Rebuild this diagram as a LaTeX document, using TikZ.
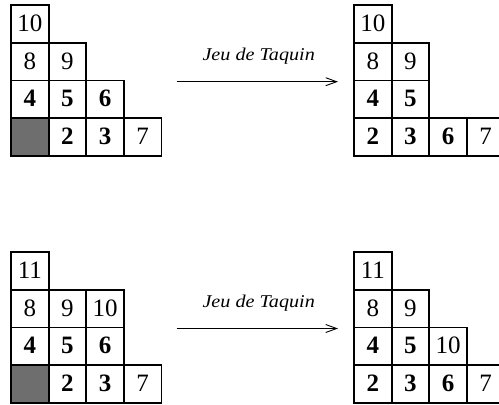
\documentclass[tikz,border=0pt]{standalone}
\usepackage{fontspec}
\setmainfont{Liberation Serif}
\usetikzlibrary{arrows.meta}
\definecolor{holegray}{HTML}{6E6E6E}
\newcommand{\cellfont}{\fontsize{25}{25}\selectfont}
\begin{document}
\begin{tikzpicture}[x=1pt,y=-1pt,
  cell/.style={draw, line width=1.8pt, minimum size=37.6pt, inner sep=0pt, outer sep=0pt, font=\cellfont},
  bcell/.style={cell, font=\cellfont\bfseries},
  hole/.style={cell, fill=holegray},
  arr/.style={line width=0.9pt, -{Straight Barb[length=11pt,width=8pt,line width=0.9pt]}},
  lab/.style={font=\fontsize{18}{18}\selectfont\itshape, anchor=base, inner sep=0pt}
]
\useasboundingbox (0,0) rectangle (499,405);
% ---------- top left ----------
\node[cell]  (tl00) at (29.8,24.1)  {\raisebox{1.5pt}{10}};
\node[cell]  (tl10) at (29.8,61.7)  {\raisebox{1.5pt}{8}};
\node[cell]  (tl11) at (67.4,61.7)  {\raisebox{1.5pt}{9}};
\node[bcell] (tl20) at (29.8,99.3)  {\raisebox{1.5pt}{4}};
\node[bcell] (tl21) at (67.4,99.3)  {\raisebox{1.5pt}{5}};
\node[bcell] (tl22) at (105.0,99.3) {\raisebox{1.5pt}{6}};
\node[hole]  (tl30) at (29.8,136.9) {};
\node[bcell] (tl31) at (67.4,136.9) {\raisebox{1.5pt}{2}};
\node[bcell] (tl32) at (105.0,136.9) {\raisebox{1.5pt}{3}};
\node[cell]  (tl33) at (142.6,136.9) {\raisebox{1.5pt}{7}};
% ---------- top right ----------
\node[cell]  (tr00) at (372.8,24.1)  {\raisebox{1.5pt}{10}};
\node[cell]  (tr10) at (372.8,61.7)  {\raisebox{1.5pt}{8}};
\node[cell]  (tr11) at (410.4,61.7)  {\raisebox{1.5pt}{9}};
\node[bcell] (tr20) at (372.8,99.3)  {\raisebox{1.5pt}{4}};
\node[bcell] (tr21) at (410.4,99.3)  {\raisebox{1.5pt}{5}};
\node[bcell] (tr30) at (372.8,136.9) {\raisebox{1.5pt}{2}};
\node[bcell] (tr31) at (410.4,136.9) {\raisebox{1.5pt}{3}};
\node[bcell] (tr32) at (448.0,136.9) {\raisebox{1.5pt}{6}};
\node[cell]  (tr33) at (485.6,136.9) {\raisebox{1.5pt}{7}};
% ---------- bottom left ----------
\node[cell]  (bl00) at (29.8,271.1)  {\raisebox{1.5pt}{11}};
\node[cell]  (bl10) at (29.8,308.7)  {\raisebox{1.5pt}{8}};
\node[cell]  (bl11) at (67.4,308.7)  {\raisebox{1.5pt}{9}};
\node[cell]  (bl12) at (105.0,308.7) {\raisebox{1.5pt}{10}};
\node[bcell] (bl20) at (29.8,346.3)  {\raisebox{1.5pt}{4}};
\node[bcell] (bl21) at (67.4,346.3)  {\raisebox{1.5pt}{5}};
\node[bcell] (bl22) at (105.0,346.3) {\raisebox{1.5pt}{6}};
\node[hole]  (bl30) at (29.8,383.9) {};
\node[bcell] (bl31) at (67.4,383.9) {\raisebox{1.5pt}{2}};
\node[bcell] (bl32) at (105.0,383.9) {\raisebox{1.5pt}{3}};
\node[cell]  (bl33) at (142.6,383.9) {\raisebox{1.5pt}{7}};
% ---------- bottom right ----------
\node[cell]  (br00) at (372.8,271.1)  {\raisebox{1.5pt}{11}};
\node[cell]  (br10) at (372.8,308.7)  {\raisebox{1.5pt}{8}};
\node[cell]  (br11) at (410.4,308.7)  {\raisebox{1.5pt}{9}};
\node[bcell] (br20) at (372.8,346.3)  {\raisebox{1.5pt}{4}};
\node[bcell] (br21) at (410.4,346.3)  {\raisebox{1.5pt}{5}};
\node[cell]  (br22) at (448.0,346.3)  {\raisebox{1.5pt}{10}};
\node[bcell] (br30) at (372.8,383.9) {\raisebox{1.5pt}{2}};
\node[bcell] (br31) at (410.4,383.9) {\raisebox{1.5pt}{3}};
\node[bcell] (br32) at (448.0,383.9) {\raisebox{1.5pt}{6}};
\node[cell]  (br33) at (485.6,383.9) {\raisebox{1.5pt}{7}};
% ---------- arrows ----------
\coordinate (a1s) at (176.7,81.7);
\coordinate (a1e) at (338.0,81.7);
\draw[arr] (a1s) -- (a1e);
\node[lab] (l1) at (258.7,60.7) {\scalebox{1.12}[1]{Jeu de Taquin}};
\coordinate (a2s) at (176.7,328.5);
\coordinate (a2e) at (338.0,328.5);
\draw[arr] (a2s) -- (a2e);
\node[lab] (l2) at (258.7,307.7) {\scalebox{1.12}[1]{Jeu de Taquin}};
\end{tikzpicture}
\end{document}
